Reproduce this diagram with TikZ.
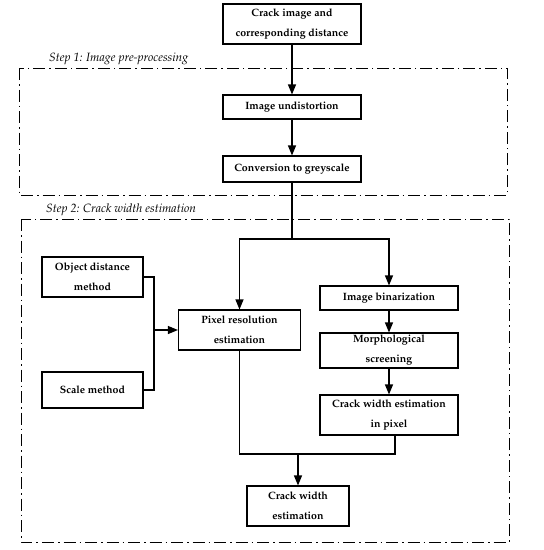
\documentclass[tikz,border=0pt]{standalone}
\usepackage[T1]{fontenc}
\usepackage{mathpazo}
\usetikzlibrary{arrows.meta}
\tikzset{
  box/.style={draw, line width=1.1pt, inner sep=0pt, align=center, font=\fontsize{10.6}{20}\selectfont\bfseries},
  conn/.style={line width=1.1pt},
  arr/.style={conn, -{Triangle[length=10pt,width=8pt]}},
  stage/.style={line width=1pt, dash pattern=on 12pt off 4pt on 1.5pt off 4pt},
  steplabel/.style={anchor=west, inner sep=0pt, font=\fontsize{12}{14}\selectfont\itshape}
}
\begin{document}
\begin{tikzpicture}[x=1pt,y=-1pt]
\useasboundingbox (0,0) rectangle (544,550);
% stage frames
\draw[stage] (19,68) rectangle (507,195);
\draw[stage] (21,219) rectangle (509,542);
\node[steplabel] (s1) at (49,59) {Step 1: Image pre-processing};
\node[steplabel] (s2) at (46,210) {Step 2: Crack width estimation};
% nodes
\node[box, minimum width=138pt, minimum height=40pt] (top) at (292,24) {Crack image and\\corresponding distance};
\node[box, minimum width=138pt, minimum height=24pt] (undist) at (292,107) {Image undistortion};
\node[box, minimum width=138pt, minimum height=26pt] (grey) at (292,169) {Conversion to greyscale};
\node[box, minimum width=101pt, minimum height=40pt] (obj) at (92.5,277) {Object distance\\method};
\node[box, minimum width=101pt, minimum height=36pt] (scale) at (92.5,390) {Scale method};
\node[box, minimum width=122pt, minimum height=40pt] (pixres) at (239.5,330) {Pixel resolution\\estimation};
\node[box, minimum width=138pt, minimum height=24pt] (bin) at (389,298) {Image binarization};
\node[box, minimum width=138pt, minimum height=35pt] (morph) at (389,350.5) {Morphological\\screening};
\node[box, minimum width=138pt, minimum height=40pt] (cwp) at (389,415) {Crack width estimation\\in pixel};
\node[box, minimum width=102pt, minimum height=40pt] (cwe) at (298,506) {Crack width\\estimation};
% coordinates
\coordinate (split) at (292,239);
\coordinate (j) at (154,330);
\coordinate (cwpout) at (395,435);
\coordinate (merge) at (298,454);
% connectors
\draw[arr] (top) -- (undist);
\draw[arr] (undist) -- (grey);
\draw[conn] (grey) -- (split);
\draw[arr] (split) -| (pixres);
\draw[arr] (split) -| (bin);
\draw[conn] (obj.east) -| (j) |- (scale.east);
\draw[arr] (j) -- (pixres.west);
\draw[arr] (bin) -- (morph);
\draw[arr] (morph) -- (cwp);
\draw[conn] (cwpout) |- (merge) -| (pixres.south);
\draw[arr] (merge) -- (cwe);
\end{tikzpicture}
\end{document}
